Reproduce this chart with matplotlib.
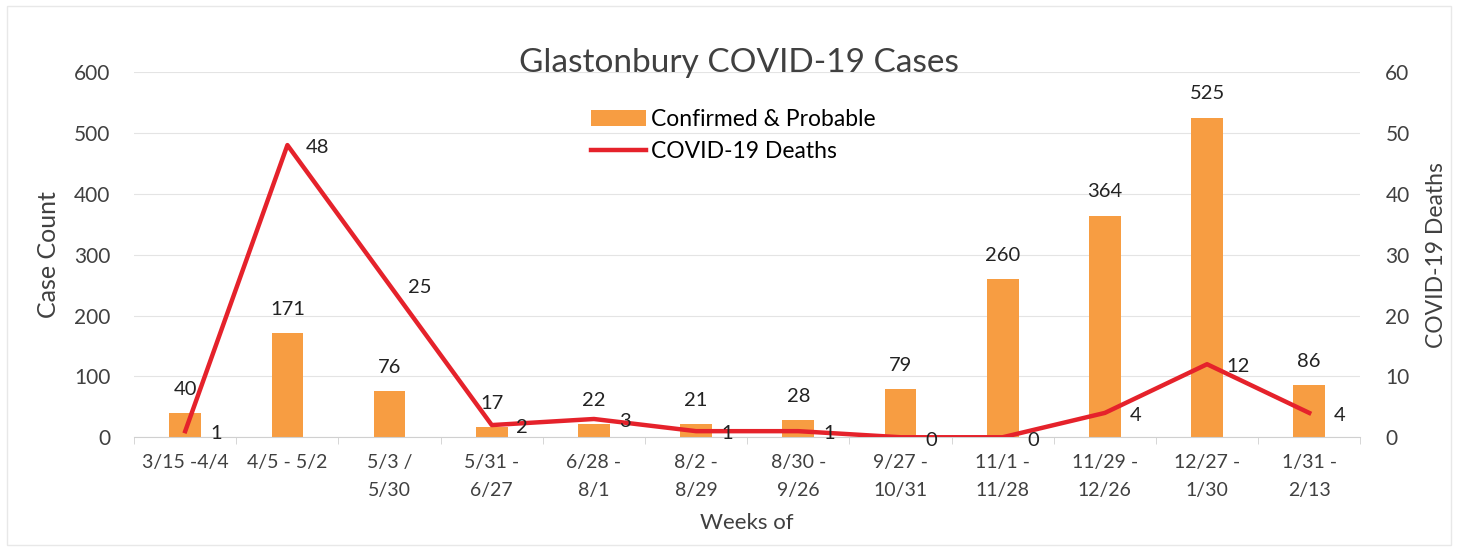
import matplotlib.pyplot as plt
import numpy as np

plt.rcParams['font.family'] = ['Lato', 'DejaVu Sans']

# Dados
semanas = ['3/15 -4/4', '4/5 - 5/2', '5/3 /\n5/30', '5/31 -\n6/27', '6/28 -\n8/1',
           '8/2 -\n8/29', '8/30 -\n9/26', '9/27 -\n10/31', '11/1 -\n11/28',
           '11/29 -\n12/26', '12/27 -\n1/30', '1/31 -\n2/13']
casos = [40, 171, 76, 17, 22, 21, 28, 79, 260, 364, 525, 86]
mortes = [1, 48, 25, 2, 3, 1, 1, 0, 0, 4, 12, 4]

laranja = '#f79d42'
vermelho = '#e5222b'
cinza = '#404040'

fig = plt.figure(figsize=(14.58, 5.5), dpi=100)
ax = fig.add_axes([0.092, 0.205, 0.841, 0.664])
ax2 = ax.twinx()

x = np.arange(len(semanas))
barras = ax.bar(x, casos, width=0.31, color=laranja, label='Confirmed & Probable', zorder=2)
for xi, v in zip(x, casos):
    ax.annotate(str(v), (xi, v), xytext=(0, 11), textcoords='offset points',
                ha='center', va='bottom', fontsize=14.5, color='#222222')

linha, = ax2.plot(x, mortes, color=vermelho, lw=3.2, label='COVID-19 Deaths', zorder=3)
for xi, v in zip(x, mortes):
    ax2.annotate(str(v), (xi, v), xytext=(22, -2), textcoords='offset points',
                 ha='center', va='center', fontsize=14.5, color='#222222')

ax.set_xlim(-0.5, len(semanas) - 0.5)
ax.set_ylim(0, 600)
ax2.set_ylim(0, 60)
ax.set_yticks(range(0, 601, 100))
ax2.set_yticks(range(0, 61, 10))
ax.set_xticks(x)
ax.set_xticklabels(semanas, fontsize=14, color=cinza, linespacing=1.8)
ax.set_xticks(np.arange(-0.5, len(semanas)), minor=True)
ax.tick_params(axis='x', which='major', length=0, pad=12)
ax.tick_params(axis='x', which='minor', length=5, color='#d0d0d0')
ax.tick_params(axis='y', length=0, labelsize=15, labelcolor=cinza, pad=17)
ax2.tick_params(axis='y', length=0, labelsize=15, labelcolor=cinza, pad=18)

ax.grid(axis='y', color='#e4e4e4', lw=0.8, zorder=0)
ax.set_axisbelow(True)
for s in ['top', 'right', 'left']:
    ax.spines[s].set_visible(False)
    ax2.spines[s].set_visible(False)
ax2.spines['bottom'].set_visible(False)
ax.spines['bottom'].set_color('#d0d0d0')

ax.set_ylabel('Case Count', fontsize=18, color=cinza, labelpad=10)
ax2.set_ylabel('COVID-19 Deaths', fontsize=16.5, color=cinza, labelpad=12)
ax.set_xlabel('Weeks of', fontsize=16, color=cinza, labelpad=10)

fig.suptitle('Glastonbury COVID-19 Cases', x=0.507, y=0.912, fontsize=24, color=cinza)
fig.legend(handles=[barras, linha], loc='upper center', bbox_to_anchor=(0.503, 0.823),
           frameon=False, fontsize=16.5, handlelength=2.4, handletextpad=0.2,
           labelspacing=0.5, borderpad=0)

fig.patches.append(plt.Rectangle((0.005, 0.01), 0.99, 0.98, transform=fig.transFigure,
                                 fill=False, edgecolor='#e8e8e8', lw=1))

fig.savefig('out.png')
